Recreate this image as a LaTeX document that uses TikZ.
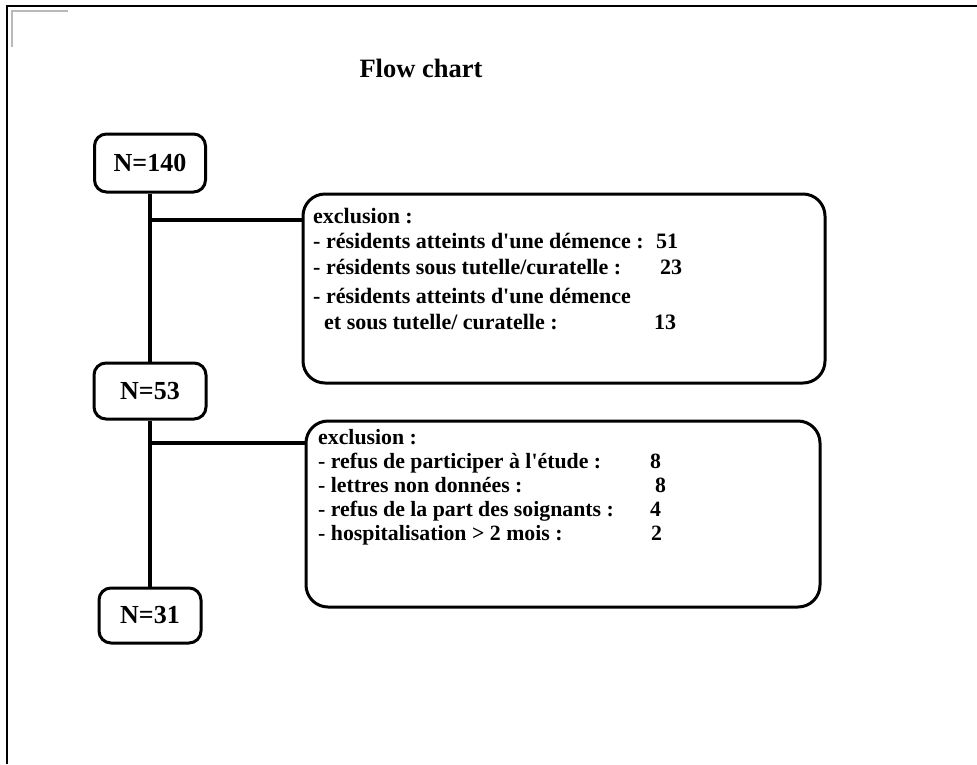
\documentclass[tikz,border=0pt]{standalone}
\usepackage{fontspec}
\setmainfont{Liberation Serif}
\newcommand{\ap}{\textquotesingle}
\begin{document}
\begin{tikzpicture}[x=1pt,y=-1pt,
  nbox/.style={draw, line width=3pt, rounded corners=12pt, inner sep=0pt,
    font=\fontsize{26}{30}\selectfont\bfseries},
  exbox/.style={draw, line width=3pt, rounded corners=22pt, inner sep=0pt},
  conn/.style={line width=3.6pt},
  txt/.style={anchor=base west, inner sep=0pt, font=\fontsize{21.8}{25}\selectfont\bfseries},
  txtb/.style={txt, font=\fontsize{22}{25}\selectfont\bfseries},
]
\useasboundingbox (0,0) rectangle (977,764);
% page frame
\draw[line width=2pt] (7,764) -- (7,6) -- (977,6);
\draw[line width=2pt, gray!55] (11.5,47) -- (11.5,11) -- (68,11);
% title
\node[anchor=base, inner sep=0pt, font=\fontsize{26.5}{30}\selectfont\bfseries] (title) at (421,77) {Flow chart};
% count boxes
\node[nbox, minimum width=111pt, minimum height=58pt] (n140) at (150,163) {N=140};
\node[nbox, minimum width=112pt, minimum height=56pt] (n53) at (150,391) {N=53};
\node[nbox, minimum width=102pt, minimum height=55pt] (n31) at (150,615.5) {N=31};
% exclusion boxes
\node[exbox, minimum width=522pt, minimum height=189pt] (ex1) at (564,288.5) {};
\node[exbox, minimum width=514pt, minimum height=186pt] (ex2) at (563,514) {};
% connectors
\draw[conn] (n140.south) -- (n53.north);
\draw[conn] (n53.south) -- (n31.north);
\coordinate (j1) at (150,220);
\coordinate (j2) at (150,443);
\draw[conn] (j1) -- (j1 -| ex1.west);
\draw[conn] (j2) -- (j2 -| ex2.west);
% text box 1
\node[txtb] (a1) at (313,223) {exclusion :};
\node[txtb] (a2) at (313,248) {- résidents atteints d\ap une démence :};
\node[txtb] (a2n) at (656,248) {51};
\node[txtb] (a3) at (313,274) {- résidents sous tutelle/curatelle :};
\node[txtb] (a3n) at (660,274) {23};
\node[txtb] (a4) at (313,303) {- résidents atteints d\ap une démence};
\node[txtb] (a5) at (324,329) {et sous tutelle/ curatelle :};
\node[txtb] (a5n) at (654,329) {13};
% text box 2
\node[txt] (b1) at (318,444) {exclusion :};
\node[txt] (b2) at (318,468) {- refus de participer à l\ap étude :};
\node[txt] (b2n) at (650,468) {8};
\node[txt] (b3) at (318,492) {- lettres non données :};
\node[txt] (b3n) at (655,492) {8};
\node[txt] (b4) at (318,516) {- refus de la part des soignants :};
\node[txt] (b4n) at (650,516) {4};
\node[txt] (b5) at (318,540) {- hospitalisation > 2 mois :};
\node[txt] (b5n) at (651,540) {2};
\end{tikzpicture}
\end{document}
